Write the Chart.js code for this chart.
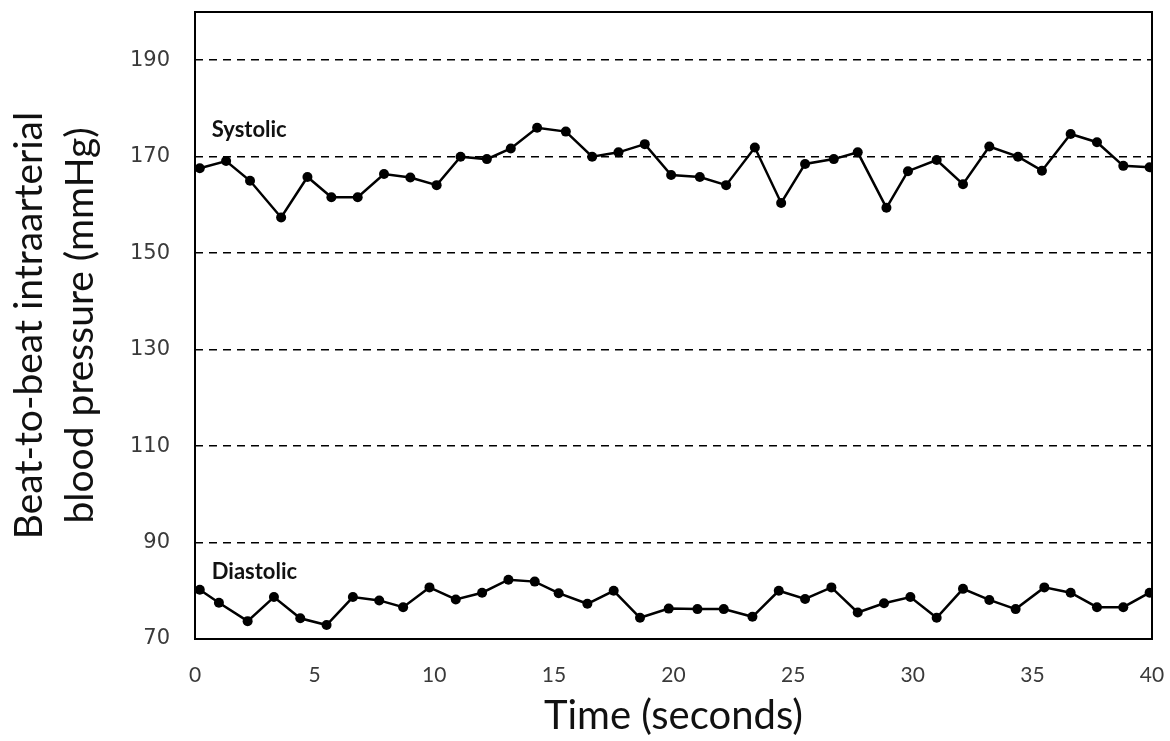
<!DOCTYPE html>
<html lang="en">
<head>
  <meta charset="UTF-8">
  <title>Beat-to-beat blood pressure</title>
  <script src="https://cdn.jsdelivr.net/npm/chart.js"></script>
  <style>
    html, body { margin: 0; padding: 0; background: #fff; }
    #wrap { width: 1170px; height: 741px; }
  </style>
</head>
<body>
  <div id="wrap"><canvas id="bp-plot"></canvas></div>

  <script>
    // time of each beat (s) and pressure (mmHg)
    const sysTime = [0.2, 1.3, 2.3, 3.6, 4.7, 5.7, 6.8, 7.9, 9.0, 10.1, 11.1, 12.2, 13.2, 14.3, 15.5, 16.6, 17.7, 18.8, 19.9,
      21.1, 22.2, 23.4, 24.5, 25.5, 26.7, 27.7, 28.9, 29.8, 31.0, 32.1, 33.2, 34.4, 35.4, 36.6, 37.7, 38.8, 39.9];
    const systolic = [167.6, 169.1, 165.0, 157.4, 165.8, 161.6, 161.6, 166.4, 165.7, 164.1, 170.0, 169.5, 171.7, 176.0, 175.2, 170.0, 170.9, 172.6, 166.2,
      165.8, 164.1, 171.9, 160.4, 168.5, 169.5, 170.9, 159.4, 167.0, 169.3, 164.3, 172.1, 170.0, 167.1, 174.7, 173.0, 168.1, 167.8];

    const diaTime = [0.2, 1.0, 2.2, 3.3, 4.4, 5.5, 6.6, 7.7, 8.7, 9.8, 10.9, 12.0, 13.1, 14.2, 15.2, 16.4, 17.5, 18.6, 19.8,
      21.0, 22.1, 23.3, 24.4, 25.5, 26.6, 27.7, 28.8, 29.9, 31.0, 32.1, 33.2, 34.3, 35.5, 36.6, 37.7, 38.8, 39.9];
    const diastolic = [80.2, 77.5, 73.7, 78.7, 74.3, 72.9, 78.7, 78.0, 76.6, 80.7, 78.2, 79.6, 82.3, 81.9, 79.5, 77.3, 80.0, 74.4, 76.3,
      76.2, 76.2, 74.6, 80.0, 78.3, 80.7, 75.5, 77.4, 78.7, 74.4, 80.4, 78.1, 76.2, 80.7, 79.6, 76.6, 76.6, 79.6];

    const yTicks = [70, 90, 110, 130, 150, 170, 190];
    const xTicks = [0, 5, 10, 15, 20, 25, 30, 35, 40];

    // in-plot labels: [text, time, mmHg]
    const seriesLabels = [['Systolic', 0.7, 175.6], ['Diastolic', 0.7, 84.0]];

    const toPoints = (xs, ys) => xs.map((x, i) => ({ x: x, y: ys[i] }));

    // box round the plot + the Systolic / Diastolic words
    const frameAndLabels = {
      id: 'frameAndLabels',
      afterDatasetsDraw(chart) {
        const { ctx, chartArea: a, scales } = chart;
        ctx.save();
        ctx.strokeStyle = '#000';
        ctx.lineWidth = 2;
        ctx.strokeRect(a.left, a.top, a.right - a.left, a.bottom - a.top);
        ctx.fillStyle = '#111';
        ctx.font = 'bold 22px Lato';
        ctx.textBaseline = 'middle';
        seriesLabels.forEach(([txt, t, v]) => {
          ctx.fillText(txt, scales.x.getPixelForValue(t), scales.y.getPixelForValue(v));
        });
        ctx.restore();
      }
    };

    const noPad = s => {
      s.paddingTop = 0; s.paddingBottom = 0; s.paddingLeft = 0; s.paddingRight = 0;
    };

    const lineStyle = {
      borderColor: '#000',
      backgroundColor: '#000',
      borderWidth: 2.5,
      pointRadius: 5,
      pointHoverRadius: 5,
      pointBorderWidth: 0,
      tension: 0,
      fill: false
    };

    new Chart(document.getElementById('bp-plot'), {
      type: 'line',
      data: {
        datasets: [
          Object.assign({ label: 'Systolic', data: toPoints(sysTime, systolic) }, lineStyle),
          Object.assign({ label: 'Diastolic', data: toPoints(diaTime, diastolic) }, lineStyle)
        ]
      },
      options: {
        responsive: true,
        maintainAspectRatio: false,
        animation: false,
        layout: { padding: { left: 0, right: 18, top: 12, bottom: 0 } },
        plugins: { legend: { display: false }, tooltip: { enabled: false } },
        scales: {
          x: {
            type: 'linear',
            min: 0,
            max: 40,
            afterBuildTicks: s => { s.ticks = xTicks.map(v => ({ value: v })); },
            afterFit: s => { s.height = 102; noPad(s); },
            grid: { display: false, drawTicks: false },
            border: { display: false },
            ticks: { color: '#3a3a3a', font: { family: 'Lato', size: 21 }, padding: 24, maxRotation: 0 },
            title: {
              display: true,
              text: 'Time (seconds)',
              color: '#111',
              font: { family: 'Lato', size: 40, lineHeight: 1.2 },
              padding: { top: 0, bottom: 1 }
            }
          },
          y: {
            min: 70,
            max: 200,
            afterBuildTicks: s => { s.ticks = yTicks.map(v => ({ value: v })); },
            afterFit: s => { s.width = 195; noPad(s); },
            grid: {
              drawTicks: false,
              color: '#000',
              lineWidth: 1.5
            },
            border: { display: false, dash: [8, 6] },
            ticks: { color: '#3a3a3a', font: { family: 'DejaVu Sans', size: 21 }, padding: 25 },
            title: {
              display: true,
              text: ['Beat-to-beat intraarterial', 'blood pressure (mmHg)'],
              color: '#111',
              font: { family: 'Lato', size: 39, lineHeight: 1.33 },
              padding: { top: 3, bottom: 0 }
            }
          }
        }
      },
      plugins: [frameAndLabels]
    });
  </script>
</body>
</html>
